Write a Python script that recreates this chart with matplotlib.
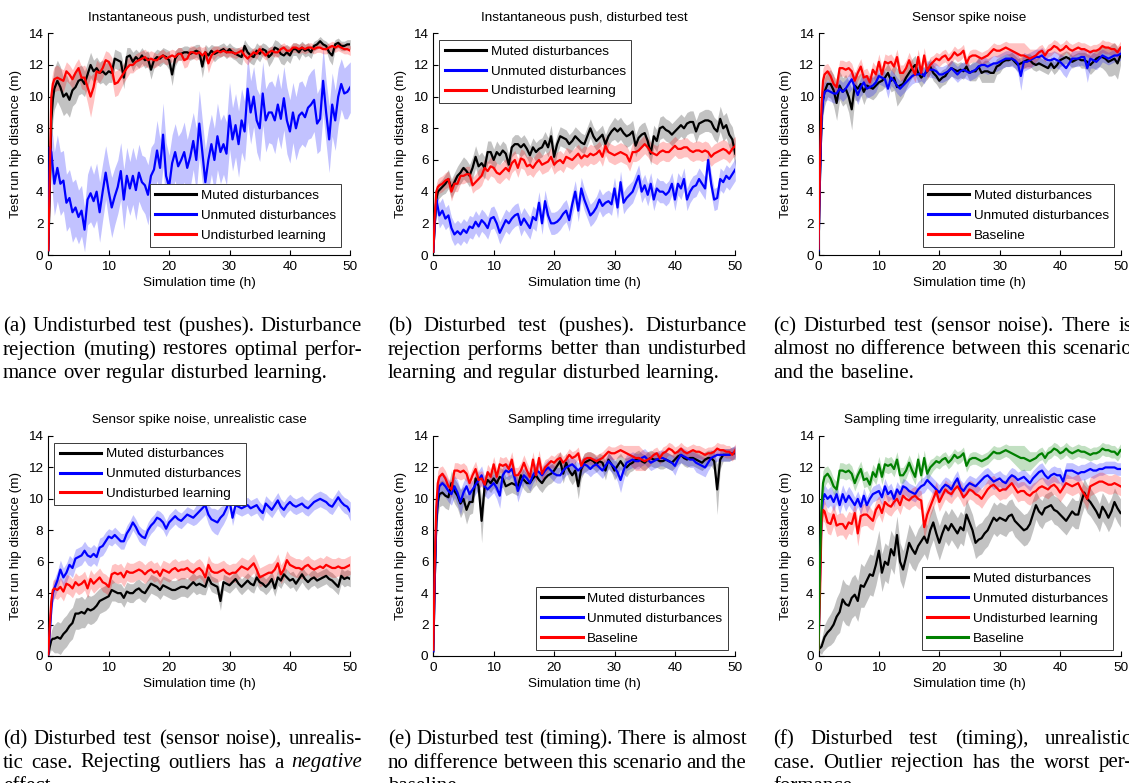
import numpy as np
import matplotlib
matplotlib.use('Agg')
import matplotlib.pyplot as plt
from matplotlib.transforms import IdentityTransform

plt.rcParams['font.family'] = ['Liberation Sans', 'DejaVu Sans']
FS = 9.7
plt.rcParams['font.size'] = FS

# sampling times (h): 0, 0.25, 0.5, 0.75, then every 0.5 h up to 50
T = np.concatenate([[0.0, 0.25, 0.5, 0.75], np.arange(1.0, 50.01, 0.5)])

# ---------------- (a) Instantaneous push, undisturbed test ----------------
a_muted = [0.3, 4.0, 8.5, 9.8,
 10.5, 11.0, 10.6, 10.0, 10.2, 9.8, 10.4, 10.6, 11.0, 11.1,
 10.8, 11.4, 12.0, 11.6, 11.8, 11.5, 11.6, 11.4, 11.6, 11.5,
 12.4, 12.3, 12.2, 11.2, 12.5, 12.6, 12.2, 12.5, 12.3, 12.6,
 12.3, 12.4, 11.7, 12.3, 12.5, 12.4, 12.6, 12.5, 12.3, 11.4,
 12.4, 12.7, 12.7, 12.8, 12.8, 12.7, 12.8, 12.9, 12.8, 11.9,
 12.8, 12.6, 12.9, 12.7, 12.8, 12.9, 13.0, 12.8, 13.0, 12.8,
 12.7, 12.6, 12.5, 13.2, 12.8, 12.6, 12.5, 12.9, 12.7, 13.0,
 12.9, 12.5, 12.7, 13.1, 13.0, 12.7, 12.6, 12.8, 12.6, 13.0,
 13.0, 12.8, 13.1, 12.9, 13.0, 12.8, 13.2, 13.3, 13.5, 13.3,
 13.2, 12.8, 12.6, 13.3, 13.4, 13.2, 13.2, 13.3, 13.3]
a_muted_sd = [0.2, 1.0, 1.2, 1.3,
 1.3, 1.3, 1.3, 1.2, 1.2, 1.1, 1.0, 1.0, 0.9, 0.9,
 0.8, 0.8, 0.8, 0.7, 0.7, 0.7, 0.7, 0.7, 0.7, 0.6,
 0.6, 0.6, 0.6, 0.7, 0.6, 0.5, 0.6, 0.5, 0.5, 0.5,
 0.5, 0.5, 0.6, 0.5, 0.5, 0.5, 0.5, 0.5, 0.6, 0.7,
 0.5, 0.4, 0.4, 0.4, 0.4, 0.4, 0.4, 0.4, 0.5, 0.7,
 0.5, 0.5, 0.4, 0.5, 0.4, 0.4, 0.4, 0.4, 0.4, 0.4,
 0.4, 0.5, 0.5, 0.4, 0.5, 0.5, 0.5, 0.5, 0.5, 0.4,
 0.4, 0.6, 0.5, 0.5, 0.5, 0.6, 0.6, 0.5, 0.5, 0.4,
 0.4, 0.5, 0.4, 0.4, 0.4, 0.4, 0.3, 0.3, 0.3, 0.3,
 0.3, 0.5, 0.6, 0.3, 0.3, 0.3, 0.3, 0.3, 0.3]
a_unmuted = [0.3, 6.8, 6.5, 5.5,
 4.5, 5.5, 4.5, 4.7, 3.3, 3.6, 2.7, 3.0, 2.4, 2.8,
 1.6, 3.5, 3.9, 3.4, 4.0, 2.7, 4.0, 5.2, 4.0, 3.0,
 3.7, 4.3, 5.3, 3.5, 5.0, 4.2, 5.0, 4.1, 5.2, 4.6,
 4.4, 3.8, 5.0, 5.4, 6.6, 5.5, 7.6, 5.0, 4.3, 5.8,
 6.5, 5.6, 6.0, 6.5, 5.5, 6.2, 7.2, 6.0, 8.3, 6.5,
 4.6, 6.0, 7.0, 6.0, 7.5, 6.5, 7.0, 6.4, 8.8, 7.3,
 8.2, 7.0, 8.5, 7.8, 10.5, 9.0, 10.0, 8.5, 8.0, 10.2,
 8.5, 9.0, 9.0, 8.5, 9.5, 8.6, 9.9, 8.5, 7.8, 9.0,
 8.0, 8.8, 9.0, 8.7, 9.3, 9.5, 9.8, 8.3, 8.6, 11.0,
 9.0, 7.3, 9.5, 8.5, 10.0, 10.8, 10.2, 10.3, 10.6]
a_unmuted_sd = [0.2, 1.0, 1.5, 2.0,
 2.0, 2.1, 2.0, 1.9, 1.8, 1.8, 1.9, 1.8, 1.7, 1.6,
 1.4, 1.6, 1.8, 1.7, 1.8, 1.9, 1.8, 1.7, 1.8, 1.9,
 1.8, 1.7, 1.8, 1.9, 1.8, 1.7, 1.8, 1.9, 1.8, 1.7,
 1.8, 1.9, 1.8, 1.7, 1.9, 1.8, 2.0, 2.1, 2.0, 1.8,
 1.8, 1.9, 1.8, 1.9, 1.8, 1.9, 1.8, 2.0, 2.1, 2.0,
 2.1, 2.0, 1.9, 2.0, 2.1, 2.0, 1.9, 2.0, 2.1, 2.0,
 2.0, 2.1, 2.0, 1.9, 2.1, 2.0, 1.9, 2.0, 2.1, 2.0,
 2.0, 1.9, 2.0, 2.1, 2.0, 1.9, 2.0, 2.1, 2.0, 1.9,
 2.0, 2.1, 2.0, 1.9, 2.0, 2.1, 2.0, 1.9, 2.0, 2.1,
 2.0, 2.1, 2.0, 1.9, 1.8, 1.6, 1.6, 1.7, 1.6]
a_undist = [0.3, 5.0, 10.0, 10.8,
 11.1, 11.2, 11.1, 11.0, 11.6, 11.4, 11.1, 11.5, 11.8, 11.2,
 11.2, 10.6, 10.0, 10.6, 11.6, 11.5, 11.8, 12.3, 12.2, 11.8,
 10.8, 10.9, 11.2, 11.5, 11.8, 12.0, 12.0, 12.2, 12.3, 12.4,
 12.5, 12.3, 12.4, 12.3, 12.3, 12.5, 12.6, 12.4, 12.5, 12.6,
 12.5, 12.7, 12.7, 12.3, 12.4, 12.8, 12.8, 12.7, 12.8, 12.6,
 12.8, 12.1, 12.6, 12.8, 12.9, 12.8, 12.9, 12.8, 12.8, 12.8,
 12.7, 12.8, 12.9, 12.6, 12.4, 12.6, 12.8, 12.7, 13.0, 12.8,
 12.6, 12.8, 12.9, 12.8, 12.8, 13.0, 13.1, 12.9, 12.9, 13.1,
 13.1, 13.0, 13.1, 13.0, 13.1, 13.1, 13.0, 13.1, 13.1, 13.0,
 13.0, 13.1, 13.2, 13.1, 13.2, 13.1, 13.0, 13.0, 12.9]
a_undist_sd = [0.2, 1.0, 1.0, 0.8,
 0.8, 0.8, 0.7, 0.7, 0.6, 0.6, 0.6, 0.6, 0.6, 0.7,
 0.8, 1.0, 1.3, 0.9, 0.7, 0.6, 0.6, 0.6, 0.6, 0.7,
 0.8, 0.8, 0.7, 0.6, 0.6, 0.5, 0.5, 0.5, 0.5, 0.5,
 0.5, 0.5, 0.5, 0.5, 0.4, 0.4, 0.4, 0.4, 0.4, 0.4,
 0.4, 0.4, 0.4, 0.5, 0.5, 0.4, 0.4, 0.4, 0.4, 0.5,
 0.4, 0.6, 0.5, 0.4, 0.3, 0.3, 0.3, 0.3, 0.3, 0.3,
 0.3, 0.3, 0.3, 0.4, 0.4, 0.3, 0.3, 0.3, 0.3, 0.3,
 0.3, 0.3, 0.3, 0.3, 0.3, 0.3, 0.3, 0.3, 0.3, 0.3,
 0.3, 0.3, 0.3, 0.3, 0.3, 0.3, 0.3, 0.3, 0.3, 0.3,
 0.3, 0.3, 0.3, 0.3, 0.3, 0.3, 0.3, 0.3, 0.3]

# ---------------- (b) Instantaneous push, disturbed test ----------------
b_muted = [0.2, 2.0, 3.5, 4.0,
 4.1, 4.3, 4.5, 4.8, 4.2, 4.6, 5.0, 5.2, 5.5, 5.3,
 5.0, 5.5, 6.2, 5.6, 5.8, 5.5, 6.5, 6.5, 6.0, 6.5,
 6.3, 6.6, 6.4, 5.7, 6.8, 7.0, 7.0, 6.8, 7.0, 6.7,
 6.3, 6.8, 6.5, 6.7, 6.8, 7.2, 6.8, 7.5, 6.2, 7.0,
 7.5, 7.4, 7.3, 7.0, 7.2, 7.5, 7.3, 7.1, 7.0, 7.5,
 8.0, 7.5, 7.2, 7.4, 7.6, 7.0, 7.5, 7.8, 8.0, 7.8,
 8.0, 7.7, 7.5, 7.6, 7.8, 6.9, 7.4, 7.6, 7.7, 7.2,
 6.4, 7.5, 7.2, 8.0, 8.1, 7.9, 7.8, 7.6, 7.8, 8.0,
 8.2, 8.0, 8.3, 8.4, 8.4, 7.8, 8.3, 8.4, 8.5, 8.5,
 8.4, 8.0, 7.8, 8.6, 8.0, 8.2, 7.6, 7.3, 6.4]
b_muted_sd = [0.1, 0.3, 0.5, 0.5,
 0.5, 0.5, 0.6, 0.6, 0.6, 0.6, 0.6, 0.7, 0.7, 0.7,
 0.7, 0.7, 0.7, 0.7, 0.7, 0.7, 0.7, 0.7, 0.7, 0.7,
 0.6, 0.6, 0.6, 0.6, 0.6, 0.6, 0.6, 0.6, 0.6, 0.6,
 0.6, 0.6, 0.6, 0.6, 0.6, 0.6, 0.6, 0.7, 0.7, 0.6,
 0.6, 0.6, 0.6, 0.6, 0.6, 0.6, 0.6, 0.6, 0.6, 0.6,
 0.6, 0.6, 0.6, 0.6, 0.6, 0.6, 0.6, 0.6, 0.7, 0.7,
 0.7, 0.7, 0.7, 0.7, 0.7, 0.7, 0.7, 0.7, 0.7, 0.7,
 0.7, 0.7, 0.7, 0.7, 0.7, 0.7, 0.7, 0.7, 0.7, 0.7,
 0.7, 0.7, 0.7, 0.7, 0.7, 0.7, 0.7, 0.7, 0.7, 0.7,
 0.7, 0.7, 0.7, 0.8, 0.8, 0.8, 0.8, 0.8, 0.8]
b_unmuted = [0.2, 2.0, 3.5, 3.0,
 2.5, 2.8, 2.3, 2.5, 1.7, 1.3, 1.5, 1.3, 1.6, 1.4,
 1.8, 1.7, 2.1, 1.8, 2.2, 2.0, 1.7, 2.3, 2.4, 2.0,
 1.4, 1.8, 2.2, 2.0, 2.3, 2.5, 2.6, 1.9, 2.3, 2.0,
 1.7, 2.4, 2.2, 3.3, 2.0, 3.4, 2.5, 2.0, 2.0, 2.1,
 2.3, 2.6, 2.8, 2.2, 3.2, 4.0, 2.8, 4.2, 3.5, 3.0,
 2.5, 2.7, 3.0, 3.5, 3.1, 3.3, 3.4, 3.2, 4.2, 3.0,
 4.6, 3.3, 3.6, 3.8, 4.0, 4.5, 5.0, 4.0, 4.4, 3.8,
 4.5, 3.5, 4.2, 4.0, 4.0, 3.8, 4.0, 4.5, 3.5, 4.5,
 4.2, 4.8, 3.5, 4.0, 4.3, 4.4, 4.8, 4.5, 4.2, 6.0,
 4.5, 3.5, 3.6, 4.8, 4.6, 5.0, 4.8, 5.1, 5.4]
b_unmuted_sd = [0.1, 0.5, 0.7, 0.8,
 0.8, 0.8, 0.7, 0.7, 0.7, 0.7, 0.7, 0.7, 0.7, 0.7,
 0.7, 0.7, 0.7, 0.7, 0.7, 0.7, 0.7, 0.7, 0.7, 0.7,
 0.7, 0.7, 0.7, 0.7, 0.7, 0.7, 0.7, 0.7, 0.7, 0.7,
 0.7, 0.7, 0.7, 0.7, 0.7, 0.7, 0.7, 0.7, 0.7, 0.7,
 0.7, 0.7, 0.7, 0.7, 0.7, 0.7, 0.7, 0.7, 0.7, 0.7,
 0.7, 0.7, 0.7, 0.7, 0.7, 0.7, 0.7, 0.7, 0.7, 0.7,
 0.7, 0.7, 0.7, 0.7, 0.7, 0.7, 0.7, 0.7, 0.7, 0.7,
 0.7, 0.7, 0.7, 0.7, 0.7, 0.7, 0.7, 0.7, 0.7, 0.7,
 0.7, 0.7, 0.7, 0.7, 0.7, 0.7, 0.7, 0.7, 0.7, 0.7,
 0.7, 0.7, 0.7, 0.7, 0.7, 0.7, 0.7, 0.7, 0.7]
b_undist = [0.2, 2.5, 4.0, 4.3,
 4.4, 4.5, 4.7, 4.8, 4.0, 4.5, 4.5, 5.0, 5.0, 5.1,
 5.1, 4.4, 4.6, 4.8, 5.0, 5.5, 5.3, 5.6, 5.5, 5.2,
 5.1, 5.3, 5.5, 5.3, 5.8, 6.0, 5.5, 6.1, 6.0, 5.6,
 5.7, 5.5, 5.8, 6.0, 5.7, 5.8, 5.9, 6.2, 5.7, 5.9,
 6.0, 5.8, 6.2, 6.1, 6.0, 6.2, 6.4, 6.1, 6.3, 6.2,
 6.4, 6.3, 6.4, 6.6, 6.2, 6.9, 6.5, 6.4, 6.3, 6.4,
 6.5, 6.4, 6.3, 5.9, 6.5, 6.5, 6.6, 6.8, 7.0, 6.8,
 6.5, 6.4, 6.3, 6.5, 6.6, 6.5, 6.5, 6.7, 6.9, 6.7,
 6.7, 6.8, 6.8, 6.6, 6.5, 6.6, 6.6, 6.5, 6.6, 6.5,
 6.2, 6.4, 6.5, 6.6, 6.7, 6.6, 6.4, 6.7, 6.9]
b_undist_sd = [0.1, 0.4, 0.5, 0.5,
 0.5, 0.5, 0.5, 0.5, 0.6, 0.5, 0.5, 0.5, 0.5, 0.5,
 0.5, 0.5, 0.5, 0.6, 0.6, 0.6, 0.6, 0.6, 0.6, 0.6,
 0.6, 0.6, 0.6, 0.6, 0.6, 0.6, 0.6, 0.6, 0.6, 0.6,
 0.6, 0.6, 0.6, 0.6, 0.6, 0.6, 0.6, 0.6, 0.6, 0.6,
 0.6, 0.6, 0.6, 0.6, 0.6, 0.6, 0.6, 0.6, 0.6, 0.6,
 0.6, 0.6, 0.6, 0.6, 0.6, 0.6, 0.6, 0.6, 0.6, 0.6,
 0.6, 0.6, 0.6, 0.6, 0.6, 0.6, 0.6, 0.6, 0.6, 0.6,
 0.6, 0.6, 0.6, 0.6, 0.6, 0.6, 0.6, 0.6, 0.6, 0.6,
 0.6, 0.6, 0.6, 0.6, 0.6, 0.6, 0.6, 0.6, 0.6, 0.6,
 0.6, 0.6, 0.6, 0.6, 0.6, 0.6, 0.6, 0.6, 0.6]

# ---------------- shared baseline (c, e, f) ----------------
baseline = [0.4, 6.0, 9.5, 11.0,
 11.4, 11.6, 11.3, 10.8, 10.6, 11.8, 11.8, 11.7, 11.8, 11.6,
 11.0, 11.5, 11.9, 11.2, 11.3, 10.9, 11.7, 11.4, 12.2, 11.4,
 12.2, 12.1, 12.2, 11.9, 12.5, 11.5, 11.5, 11.8, 12.3, 11.8,
 11.4, 12.5, 11.5, 12.6, 11.6, 12.0, 12.2, 12.4, 12.3, 12.5,
 12.6, 12.3, 12.5, 12.8, 12.6, 12.7, 12.9, 12.1, 12.5, 12.6,
 12.6, 12.5, 12.4, 12.5, 12.6, 12.8, 13.0, 12.9, 12.9, 13.0,
 13.1, 13.0, 12.9, 12.8, 12.7, 12.6, 12.6, 12.5, 12.4, 12.5,
 12.6, 12.8, 12.9, 12.6, 12.9, 13.0, 13.2, 13.1, 12.9, 13.0,
 13.2, 13.0, 12.9, 13.0, 13.1, 13.0, 13.0, 12.9, 12.8, 12.9,
 12.9, 13.0, 13.2, 13.1, 13.1, 13.0, 13.0, 12.8, 13.1]
baseline_sd = [0.2, 1.5, 1.5, 0.8,
 0.6, 0.5, 0.5, 0.5, 0.5, 0.5, 0.5, 0.5, 0.5, 0.5,
 0.5, 0.5, 0.5, 0.5, 0.5, 0.5, 0.5, 0.5, 0.5, 0.5,
 0.5, 0.5, 0.5, 0.5, 0.5, 0.5, 0.5, 0.5, 0.5, 0.5,
 0.5, 0.5, 0.5, 0.5, 0.5, 0.5, 0.4, 0.4, 0.4, 0.4,
 0.4, 0.4, 0.4, 0.4, 0.4, 0.4, 0.4, 0.4, 0.4, 0.4,
 0.4, 0.4, 0.4, 0.4, 0.4, 0.4, 0.4, 0.4, 0.4, 0.4,
 0.4, 0.4, 0.5, 0.6, 0.7, 0.8, 0.8, 0.7, 0.6, 0.5,
 0.4, 0.4, 0.4, 0.4, 0.4, 0.4, 0.4, 0.4, 0.4, 0.4,
 0.4, 0.4, 0.4, 0.4, 0.4, 0.4, 0.4, 0.4, 0.4, 0.4,
 0.4, 0.4, 0.4, 0.4, 0.4, 0.4, 0.4, 0.4, 0.4]

# ---------------- (c) Sensor spike noise ----------------
c_muted = [0.3, 5.0, 8.5, 9.8,
 10.3, 10.8, 10.8, 10.4, 9.6, 10.7, 10.3, 10.5, 10.0, 9.2,
 10.7, 10.5, 10.8, 10.3, 10.7, 10.6, 10.5, 10.7, 10.9, 11.0,
 11.2, 11.5, 11.0, 11.2, 10.6, 10.7, 10.8, 11.2, 11.5, 11.8,
 12.0, 11.5, 11.2, 11.4, 11.6, 11.9, 11.5, 11.3, 11.0, 11.2,
 11.3, 11.6, 11.8, 11.7, 11.6, 11.7, 11.6, 11.9, 11.5, 11.6,
 11.6, 11.9, 11.5, 11.6, 11.6, 11.5, 11.5, 11.9, 12.0, 12.2,
 12.3, 12.3, 12.4, 12.2, 12.0, 12.1, 12.2, 12.3, 12.3, 12.1,
 12.0, 12.1, 12.0, 11.9, 11.8, 12.1, 11.8, 12.0, 12.3, 12.4,
 12.5, 12.4, 12.2, 12.3, 12.4, 12.3, 12.3, 12.2, 12.0, 12.2,
 12.4, 12.5, 12.5, 12.4, 12.2, 12.3, 12.4, 12.1, 12.6]
c_muted_sd = [0.2, 1.0, 1.0, 1.0,
 0.9, 0.8, 0.9, 1.0, 1.1, 0.9, 0.9, 0.9, 1.0, 1.3,
 0.9, 0.8, 0.7, 0.8, 0.7, 0.7, 0.7, 0.7, 0.6, 0.6,
 0.6, 0.6, 0.7, 0.8, 1.2, 1.0, 0.8, 0.7, 0.6, 0.6,
 0.6, 0.6, 0.6, 0.5, 0.5, 0.5, 0.5, 0.5, 0.5, 0.5,
 0.5, 0.5, 0.5, 0.5, 0.5, 0.5, 0.5, 0.5, 0.5, 0.6,
 0.6, 0.6, 0.6, 0.7, 0.7, 0.6, 0.6, 0.5, 0.5, 0.4,
 0.4, 0.4, 0.4, 0.4, 0.4, 0.4, 0.4, 0.4, 0.4, 0.4,
 0.4, 0.4, 0.4, 0.4, 0.4, 0.4, 0.4, 0.4, 0.4, 0.4,
 0.4, 0.4, 0.4, 0.4, 0.4, 0.5, 0.5, 0.5, 0.6, 0.6,
 0.6, 0.6, 0.7, 0.8, 0.9, 1.0, 1.0, 1.0, 0.6]
c_unmuted = [0.3, 5.0, 8.5, 9.8,
 10.3, 10.4, 10.3, 10.2, 10.2, 10.5, 10.3, 10.5, 10.8, 11.1,
 10.6, 10.1, 10.6, 10.9, 10.5, 10.6, 10.7, 10.9, 11.3, 11.2,
 11.1, 10.5, 11.2, 11.0, 10.7, 10.5, 10.7, 10.9, 11.1, 11.3,
 11.4, 11.4, 11.5, 11.3, 11.8, 11.7, 11.7, 11.6, 11.4, 11.4,
 11.5, 11.6, 11.8, 11.6, 11.4, 11.6, 11.7, 11.6, 11.5, 11.6,
 11.7, 11.9, 12.0, 12.0, 11.9, 12.0, 12.1, 12.1, 12.2, 12.3,
 12.4, 12.4, 12.4, 12.3, 12.1, 11.3, 12.2, 12.2, 12.3, 12.4,
 12.5, 12.5, 12.6, 12.4, 12.3, 12.3, 12.4, 12.3, 12.2, 12.0,
 11.8, 12.1, 12.4, 12.4, 12.4, 12.5, 12.5, 11.8, 12.4, 12.3,
 12.2, 12.4, 12.6, 12.5, 12.4, 12.5, 12.6, 12.6, 12.7]
c_unmuted_sd = [0.1, 1.0, 1.0, 0.8,
 0.6, 0.6, 0.6, 0.6, 0.6, 0.6, 0.6, 0.6, 0.6, 0.6,
 0.6, 0.6, 0.6, 0.6, 0.6, 0.6, 0.6, 0.6, 0.5, 0.5,
 0.5, 0.6, 0.5, 0.5, 0.5, 0.5, 0.5, 0.5, 0.5, 0.5,
 0.5, 0.5, 0.5, 0.5, 0.5, 0.5, 0.5, 0.5, 0.5, 0.5,
 0.5, 0.5, 0.5, 0.5, 0.5, 0.5, 0.5, 0.5, 0.5, 0.5,
 0.5, 0.5, 0.5, 0.5, 0.5, 0.5, 0.5, 0.5, 0.5, 0.5,
 0.5, 0.5, 0.5, 0.5, 0.6, 0.9, 0.6, 0.5, 0.5, 0.5,
 0.5, 0.5, 0.5, 0.5, 0.5, 0.5, 0.5, 0.5, 0.5, 0.6,
 0.6, 0.5, 0.5, 0.5, 0.5, 0.5, 0.6, 0.9, 0.6, 0.5,
 0.5, 0.5, 0.4, 0.4, 0.4, 0.4, 0.4, 0.4, 0.4]

# ---------------- (d) Sensor spike noise, unrealistic case ----------------
d_muted = [0.1, 0.6, 1.0, 1.1,
 1.1, 1.2, 1.1, 1.4, 1.6, 1.9, 2.1, 2.7, 2.7, 2.8,
 2.7, 3.0, 2.9, 3.0, 3.2, 3.5, 3.6, 3.7, 3.8, 4.2,
 4.1, 4.0, 4.0, 3.7, 4.1, 4.0, 4.0, 4.2, 4.3, 4.1,
 4.0, 4.3, 4.6, 4.5, 4.4, 4.2, 4.5, 4.4, 4.3, 4.2,
 4.2, 4.3, 4.4, 4.4, 4.3, 4.5, 4.7, 4.5, 4.6, 4.5,
 4.4, 5.0, 4.6, 4.5, 4.4, 3.5, 4.7, 4.6, 4.5, 4.7,
 4.9, 4.6, 4.4, 4.6, 4.8, 4.6, 4.5, 5.0, 4.7, 4.6,
 4.4, 4.6, 4.9, 4.3, 5.0, 4.8, 5.2, 5.0, 4.8, 4.9,
 4.6, 4.9, 5.2, 4.9, 4.7, 4.9, 5.0, 4.8, 4.9, 5.0,
 5.1, 4.9, 4.8, 4.6, 4.4, 5.1, 4.9, 5.0, 4.9]
d_muted_sd = [0.1, 0.4, 0.6, 0.8,
 0.9, 1.0, 1.0, 1.0, 1.0, 1.0, 1.0, 1.0, 1.0, 1.0,
 0.9, 0.9, 0.9, 0.9, 0.9, 0.8, 0.8, 0.8, 0.7, 0.7,
 0.6, 0.6, 0.6, 0.6, 0.6, 0.6, 0.6, 0.6, 0.6, 0.6,
 0.6, 0.6, 0.6, 0.6, 0.6, 0.6, 0.6, 0.6, 0.6, 0.6,
 0.6, 0.6, 0.6, 0.6, 0.6, 0.6, 0.6, 0.6, 0.6, 0.6,
 0.5, 0.5, 0.5, 0.5, 0.5, 0.6, 0.5, 0.5, 0.5, 0.5,
 0.5, 0.5, 0.5, 0.5, 0.5, 0.5, 0.5, 0.5, 0.5, 0.5,
 0.5, 0.5, 0.5, 0.5, 0.5, 0.5, 0.5, 0.5, 0.5, 0.5,
 0.5, 0.5, 0.5, 0.5, 0.5, 0.5, 0.5, 0.5, 0.5, 0.5,
 0.5, 0.5, 0.5, 0.5, 0.5, 0.5, 0.5, 0.5, 0.5]
d_unmuted = [0.1, 1.5, 3.0, 4.0,
 4.3, 4.8, 5.5, 5.0, 5.3, 5.8, 5.6, 6.2, 6.3, 6.4,
 6.7, 6.4, 6.3, 6.5, 6.3, 6.9, 7.0, 7.3, 7.6, 7.5,
 7.7, 7.5, 7.3, 7.3, 7.8, 8.1, 8.5, 8.2, 7.8, 7.6,
 7.5, 8.0, 8.3, 8.5, 8.8, 8.7, 8.5, 8.1, 8.5, 8.7,
 8.9, 8.7, 8.6, 8.8, 9.0, 8.9, 8.8, 9.0, 9.2, 9.4,
 9.6, 9.0, 8.7, 8.6, 8.5, 8.8, 9.0, 9.4, 9.9, 8.8,
 9.6, 9.5, 9.4, 9.5, 9.6, 9.4, 9.5, 9.6, 9.3, 9.1,
 9.7, 9.5, 9.3, 9.6, 9.9, 9.5, 9.3, 9.6, 9.8, 9.6,
 9.5, 9.6, 9.7, 9.5, 9.4, 9.6, 9.8, 9.9, 10.0, 9.9,
 9.8, 9.6, 9.5, 9.8, 10.1, 9.8, 9.6, 9.5, 9.2]
d_unmuted_sd = [0.1, 0.4, 0.5, 0.6,
 0.6, 0.6, 0.6, 0.6, 0.6, 0.6, 0.6, 0.6, 0.6, 0.6,
 0.6, 0.6, 0.6, 0.6, 0.6, 0.6, 0.6, 0.6, 0.5, 0.5,
 0.5, 0.5, 0.5, 0.5, 0.5, 0.5, 0.5, 0.5, 0.5, 0.5,
 0.5, 0.5, 0.5, 0.5, 0.5, 0.5, 0.5, 0.5, 0.5, 0.5,
 0.5, 0.5, 0.5, 0.5, 0.5, 0.5, 0.5, 0.6, 0.6, 0.6,
 0.6, 0.6, 0.7, 0.8, 0.8, 0.7, 0.6, 0.6, 0.5, 0.5,
 0.5, 0.5, 0.5, 0.5, 0.5, 0.5, 0.5, 0.5, 0.5, 0.5,
 0.5, 0.5, 0.5, 0.5, 0.5, 0.5, 0.5, 0.5, 0.5, 0.5,
 0.5, 0.5, 0.5, 0.5, 0.5, 0.5, 0.5, 0.5, 0.5, 0.5,
 0.5, 0.5, 0.5, 0.5, 0.5, 0.5, 0.5, 0.5, 0.6]
d_undist = [0.1, 2.0, 3.5, 4.2,
 4.3, 4.2, 4.4, 4.1, 4.6, 4.5, 4.3, 4.7, 4.5, 4.6,
 4.8, 4.3, 4.9, 4.6, 4.8, 5.0, 4.7, 4.6, 4.4, 5.2,
 5.3, 5.2, 5.3, 5.0, 5.4, 5.3, 5.3, 5.4, 5.5, 5.4,
 5.2, 5.4, 5.5, 5.3, 5.4, 5.1, 5.5, 5.4, 5.3, 5.5,
 5.6, 5.4, 5.5, 5.5, 5.6, 5.4, 5.3, 5.5, 5.6, 5.4,
 5.0, 5.8, 5.4, 5.3, 5.3, 5.4, 5.5, 5.3, 5.2, 5.3,
 5.3, 5.5, 5.7, 5.6, 5.5, 5.7, 5.9, 5.5, 5.0, 5.1,
 5.2, 5.3, 5.3, 5.5, 5.9, 5.2, 5.5, 6.1, 5.8, 5.7,
 5.6, 5.6, 5.5, 5.7, 5.8, 5.6, 5.5, 5.6, 5.7, 5.6,
 5.8, 5.7, 5.6, 5.6, 5.7, 5.6, 5.6, 5.7, 5.8]
d_undist_sd = [0.1, 0.5, 0.6, 0.6,
 0.6, 0.6, 0.6, 0.6, 0.6, 0.6, 0.6, 0.6, 0.6, 0.6,
 0.6, 0.6, 0.6, 0.6, 0.6, 0.6, 0.6, 0.6, 0.6, 0.6,
 0.6, 0.6, 0.6, 0.6, 0.6, 0.6, 0.6, 0.6, 0.6, 0.6,
 0.6, 0.6, 0.6, 0.6, 0.6, 0.6, 0.6, 0.6, 0.6, 0.6,
 0.6, 0.6, 0.6, 0.6, 0.6, 0.6, 0.6, 0.6, 0.6, 0.6,
 0.6, 0.6, 0.6, 0.6, 0.6, 0.6, 0.6, 0.6, 0.6, 0.6,
 0.6, 0.6, 0.6, 0.6, 0.6, 0.6, 0.6, 0.6, 0.6, 0.6,
 0.6, 0.6, 0.6, 0.6, 0.6, 0.6, 0.6, 0.6, 0.6, 0.6,
 0.6, 0.6, 0.6, 0.6, 0.6, 0.6, 0.6, 0.6, 0.6, 0.6,
 0.6, 0.6, 0.6, 0.6, 0.6, 0.6, 0.6, 0.6, 0.6]

# ---------------- (e) Sampling time irregularity ----------------
e_muted = [0.3, 5.0, 8.5, 9.8,
 10.3, 10.4, 10.2, 10.1, 11.0, 10.5, 10.2, 9.7, 10.0, 9.3,
 9.8, 9.8, 11.3, 10.8, 8.6, 10.8, 11.2, 11.0, 11.3, 11.0,
 11.4, 11.3, 10.8, 10.9, 11.0, 10.9, 10.8, 11.5, 11.2, 11.0,
 11.0, 11.3, 11.5, 11.2, 11.0, 11.3, 11.5, 11.6, 11.8, 12.1,
 12.4, 11.6, 12.3, 11.8, 11.5, 11.8, 10.8, 11.9, 12.3, 12.4,
 12.5, 12.4, 12.2, 12.4, 12.3, 11.8, 12.5, 12.2, 11.8, 12.1,
 12.4, 12.1, 12.0, 12.2, 12.3, 12.5, 12.6, 12.4, 12.3, 12.5,
 12.6, 12.5, 12.5, 12.4, 12.4, 12.5, 12.4, 12.3, 12.5, 12.7,
 12.8, 12.6, 12.5, 12.6, 12.6, 12.5, 12.4, 12.3, 12.5, 12.6,
 12.6, 12.4, 10.6, 12.5, 12.8, 12.8, 12.8, 12.9, 12.9]
e_muted_sd = [0.1, 1.0, 1.0, 0.9,
 0.8, 0.8, 0.8, 0.8, 0.8, 0.8, 0.8, 0.9, 0.8, 0.9,
 0.8, 0.7, 0.6, 0.7, 1.4, 0.7, 0.6, 0.6, 0.6, 0.6,
 0.6, 0.6, 0.6, 0.6, 0.6, 0.6, 0.6, 0.6, 0.6, 0.6,
 0.6, 0.6, 0.6, 0.6, 0.6, 0.6, 0.6, 0.6, 0.6, 0.6,
 0.6, 0.6, 0.6, 0.6, 0.6, 0.6, 0.8, 0.6, 0.6, 0.6,
 0.5, 0.5, 0.5, 0.5, 0.5, 0.6, 0.5, 0.5, 0.6, 0.6,
 0.5, 0.5, 0.6, 0.5, 0.5, 0.5, 0.5, 0.5, 0.5, 0.5,
 0.5, 0.5, 0.5, 0.5, 0.5, 0.5, 0.5, 0.5, 0.5, 0.5,
 0.5, 0.5, 0.5, 0.5, 0.5, 0.5, 0.5, 0.5, 0.5, 0.5,
 0.5, 0.6, 1.6, 0.6, 0.4, 0.4, 0.4, 0.4, 0.4]
e_unmuted = [0.3, 5.0, 8.8, 10.2,
 10.8, 11.0, 10.8, 10.5, 10.3, 10.8, 10.4, 9.8, 10.4, 10.8,
 10.3, 10.6, 10.9, 11.2, 11.5, 10.8, 10.6, 10.8, 11.0, 10.7,
 10.2, 11.5, 11.8, 11.7, 11.9, 11.3, 10.5, 11.0, 11.5, 11.3,
 11.0, 11.5, 11.8, 11.7, 11.5, 11.8, 12.0, 11.8, 11.6, 11.5,
 11.5, 11.8, 12.0, 12.1, 12.2, 12.0, 11.8, 12.0, 12.2, 12.1,
 11.9, 12.1, 12.2, 12.0, 11.8, 12.1, 12.4, 12.2, 12.0, 11.7,
 11.2, 11.8, 12.3, 12.4, 12.5, 12.4, 12.4, 12.6, 12.7, 12.5,
 12.3, 12.4, 12.5, 12.6, 12.6, 12.5, 12.4, 12.3, 12.1, 12.5,
 12.8, 12.7, 12.6, 12.5, 12.5, 12.3, 12.2, 12.1, 12.0, 12.3,
 12.6, 12.7, 12.8, 12.8, 12.8, 12.8, 12.8, 12.9, 13.0]
e_unmuted_sd = [0.1, 1.0, 1.0, 0.8,
 0.7, 0.7, 0.7, 0.7, 0.7, 0.7, 0.8, 0.8, 0.7, 0.7,
 0.7, 0.6, 0.6, 0.6, 0.6, 0.6, 0.6, 0.6, 0.6, 0.7,
 0.8, 0.6, 0.5, 0.5, 0.5, 0.6, 0.7, 0.6, 0.5, 0.5,
 0.5, 0.5, 0.5, 0.5, 0.5, 0.5, 0.5, 0.5, 0.5, 0.5,
 0.5, 0.5, 0.5, 0.5, 0.5, 0.5, 0.5, 0.5, 0.5, 0.5,
 0.5, 0.5, 0.5, 0.5, 0.5, 0.5, 0.5, 0.5, 0.5, 0.6,
 0.8, 0.6, 0.5, 0.5, 0.5, 0.5, 0.5, 0.5, 0.5, 0.5,
 0.5, 0.5, 0.5, 0.5, 0.5, 0.5, 0.5, 0.5, 0.6, 0.5,
 0.5, 0.5, 0.5, 0.5, 0.5, 0.6, 0.6, 0.6, 0.6, 0.5,
 0.5, 0.4, 0.4, 0.4, 0.4, 0.4, 0.4, 0.4, 0.4]

# ---------------- (f) Sampling time irregularity, unrealistic case ----------------
f_muted = [0.5, 0.5, 0.6, 0.9,
 1.2, 1.5, 1.7, 2.0, 2.5, 2.8, 3.6, 3.3, 3.2, 3.7,
 3.9, 3.5, 4.5, 4.4, 4.8, 5.2, 5.1, 5.8, 6.7, 5.3,
 6.0, 5.8, 6.8, 6.4, 7.7, 6.0, 5.5, 6.3, 7.2, 6.8,
 6.5, 7.0, 7.3, 7.6, 7.2, 8.0, 8.5, 7.8, 7.2, 7.8,
 8.3, 8.0, 8.4, 8.1, 7.8, 8.2, 8.0, 9.0, 8.5, 8.0,
 7.2, 7.4, 7.5, 7.8, 8.0, 8.4, 8.8, 8.6, 8.8, 8.7,
 8.6, 8.9, 9.0, 8.6, 8.4, 8.2, 8.0, 8.1, 8.4, 9.0,
 9.6, 9.2, 9.0, 9.4, 9.5, 9.6, 9.3, 9.2, 9.0, 8.8,
 8.6, 8.9, 9.2, 9.0, 9.0, 9.8, 10.4, 10.0, 9.8, 9.5,
 9.2, 8.8, 9.5, 9.2, 8.8, 9.2, 9.8, 9.4, 9.1]
f_muted_sd = [0.2, 0.3, 0.5, 0.6,
 0.8, 0.9, 1.0, 1.1, 1.2, 1.3, 1.3, 1.3, 1.3, 1.3,
 1.3, 1.3, 1.4, 1.3, 1.3, 1.3, 1.3, 1.3, 1.3, 1.2,
 1.2, 1.2, 1.2, 1.2, 1.2, 1.2, 1.2, 1.2, 1.2, 1.2,
 1.1, 1.1, 1.1, 1.1, 1.1, 1.1, 1.1, 1.1, 1.1, 1.1,
 1.0, 1.0, 1.0, 1.0, 1.0, 1.0, 1.0, 1.0, 1.0, 1.0,
 1.0, 1.0, 1.0, 1.0, 1.0, 1.0, 1.0, 1.0, 1.0, 1.0,
 1.0, 1.0, 1.0, 1.0, 1.0, 1.0, 1.0, 1.0, 1.0, 1.0,
 0.9, 0.9, 0.9, 0.9, 0.9, 0.9, 0.9, 0.9, 0.9, 0.9,
 0.9, 0.9, 0.9, 0.9, 0.9, 0.9, 0.9, 0.9, 0.9, 0.9,
 0.9, 0.9, 0.9, 0.9, 0.9, 0.9, 0.9, 0.9, 0.9]
f_unmuted = [0.5, 5.0, 9.0, 10.0,
 10.3, 10.0, 10.2, 9.8, 10.3, 9.6, 10.3, 9.8, 10.2, 9.9,
 9.6, 10.0, 9.5, 10.2, 9.6, 10.0, 10.3, 10.4, 10.5, 10.1,
 10.8, 10.3, 10.5, 10.0, 10.6, 10.3, 10.8, 10.7, 10.5, 10.4,
 10.3, 10.6, 10.8, 10.9, 11.2, 11.0, 10.8, 10.6, 10.4, 10.7,
 10.9, 10.8, 10.6, 11.0, 11.3, 10.7, 10.5, 10.8, 11.0, 10.9,
 10.8, 11.0, 11.2, 11.4, 11.5, 11.3, 11.1, 11.2, 11.3, 11.1,
 11.0, 11.3, 11.5, 11.4, 11.2, 11.3, 11.4, 11.2, 11.0, 11.3,
 11.5, 11.7, 11.8, 11.5, 11.3, 11.5, 11.6, 11.5, 11.5, 11.1,
 11.8, 11.8, 11.8, 11.7, 11.6, 11.7, 11.7, 11.8, 11.9, 11.8,
 11.8, 11.9, 11.9, 12.0, 12.0, 12.0, 12.0, 11.9, 11.9]
f_unmuted_sd = [0.1, 0.8, 0.8, 0.6,
 0.6, 0.6, 0.6, 0.6, 0.6, 0.6, 0.6, 0.6, 0.6, 0.6,
 0.5, 0.5, 0.5, 0.5, 0.5, 0.5, 0.5, 0.5, 0.5, 0.5,
 0.5, 0.5, 0.5, 0.5, 0.5, 0.5, 0.5, 0.5, 0.5, 0.5,
 0.5, 0.5, 0.5, 0.5, 0.5, 0.5, 0.5, 0.5, 0.5, 0.5,
 0.5, 0.5, 0.5, 0.5, 0.5, 0.5, 0.5, 0.5, 0.5, 0.5,
 0.5, 0.5, 0.5, 0.5, 0.5, 0.5, 0.5, 0.5, 0.5, 0.5,
 0.5, 0.5, 0.5, 0.5, 0.5, 0.5, 0.5, 0.5, 0.5, 0.5,
 0.5, 0.5, 0.5, 0.5, 0.5, 0.5, 0.5, 0.5, 0.5, 0.5,
 0.5, 0.5, 0.5, 0.5, 0.5, 0.5, 0.5, 0.5, 0.5, 0.5,
 0.4, 0.4, 0.4, 0.4, 0.4, 0.4, 0.4, 0.4, 0.4]
f_undist = [0.4, 4.0, 8.5, 9.3,
 9.2, 8.5, 8.4, 9.0, 8.3, 8.4, 8.4, 8.1, 8.5, 8.4,
 9.1, 7.8, 8.9, 9.0, 9.0, 8.8, 8.6, 9.3, 9.6, 9.1,
 9.8, 9.6, 9.5, 9.8, 10.0, 9.6, 10.2, 10.0, 9.9, 10.1,
 10.2, 10.0, 9.9, 8.2, 9.0, 9.5, 10.0, 10.5, 9.8, 10.2,
 10.6, 10.4, 10.3, 10.6, 10.8, 10.5, 10.1, 10.3, 10.6, 10.5,
 10.3, 10.2, 10.0, 10.3, 10.6, 10.8, 10.9, 10.7, 10.5, 10.6,
 10.6, 10.8, 11.0, 10.7, 10.4, 10.5, 10.5, 10.3, 10.2, 10.4,
 10.5, 10.7, 10.8, 10.7, 10.6, 10.8, 10.9, 10.7, 10.4, 10.7,
 11.0, 10.9, 10.8, 10.9, 11.0, 10.6, 10.3, 10.0, 10.8, 10.9,
 11.0, 11.1, 11.1, 11.0, 10.9, 10.9, 11.0, 10.9, 10.8]
f_undist_sd = [0.1, 0.8, 0.8, 0.7,
 0.7, 0.7, 0.7, 0.7, 0.7, 0.7, 0.7, 0.7, 0.7, 0.7,
 0.7, 0.8, 0.7, 0.7, 0.7, 0.7, 0.6, 0.6, 0.6, 0.6,
 0.6, 0.6, 0.6, 0.6, 0.6, 0.6, 0.6, 0.6, 0.6, 0.6,
 0.6, 0.6, 0.6, 0.8, 0.7, 0.6, 0.6, 0.6, 0.6, 0.6,
 0.6, 0.6, 0.6, 0.6, 0.6, 0.6, 0.6, 0.6, 0.6, 0.6,
 0.6, 0.6, 0.6, 0.6, 0.6, 0.6, 0.6, 0.6, 0.6, 0.6,
 0.6, 0.6, 0.6, 0.6, 0.6, 0.6, 0.6, 0.6, 0.6, 0.6,
 0.6, 0.6, 0.6, 0.6, 0.6, 0.6, 0.6, 0.6, 0.6, 0.6,
 0.6, 0.6, 0.6, 0.6, 0.6, 0.6, 0.6, 0.7, 0.6, 0.6,
 0.6, 0.6, 0.6, 0.6, 0.6, 0.6, 0.6, 0.6, 0.6]

titles = ["Instantaneous push, undisturbed test", "Instantaneous push, disturbed test",
          "Sensor spike noise", "Sensor spike noise, unrealistic case",
          "Sampling time irregularity", "Sampling time irregularity, unrealistic case"]
LBL_M, LBL_U, LBL_L, LBL_B = ("Muted disturbances", "Unmuted disturbances",
                              "Undisturbed learning", "Baseline")
K, B, R, G = '#000000', '#0000ff', '#ff0000', '#008000'

panels = [
    dict(series=[(LBL_M, a_muted, a_muted_sd, K), (LBL_U, a_unmuted, a_unmuted_sd, B),
                 (LBL_L, a_undist, a_undist_sd, R)], loc='lower right', anchor=(0.97, 0.036)),
    dict(series=[(LBL_M, b_muted, b_muted_sd, K), (LBL_U, b_unmuted, b_unmuted_sd, B),
                 (LBL_L, b_undist, b_undist_sd, R)], loc='upper left', anchor=(0.02, 0.97)),
    dict(series=[(LBL_M, c_muted, c_muted_sd, K), (LBL_U, c_unmuted, c_unmuted_sd, B),
                 (LBL_B, baseline, baseline_sd, R)], loc='lower right', anchor=(0.98, 0.035)),
    dict(series=[(LBL_M, d_muted, d_muted_sd, K), (LBL_U, d_unmuted, d_unmuted_sd, B),
                 (LBL_L, d_undist, d_undist_sd, R)], loc='upper left', anchor=(0.02, 0.97)),
    dict(series=[(LBL_M, e_muted, e_muted_sd, K), (LBL_U, e_unmuted, e_unmuted_sd, B),
                 (LBL_B, baseline, baseline_sd, R)], loc='lower right', anchor=(0.975, 0.027)),
    dict(series=[(LBL_M, f_muted, f_muted_sd, K), (LBL_U, f_unmuted, f_unmuted_sd, B),
                 (LBL_L, f_undist, f_undist_sd, R), (LBL_B, baseline, baseline_sd, G)],
         loc='lower right', anchor=(0.976, 0.027)),
]

captions = [
    ["(a) Undisturbed test (pushes). Disturbance",
     "rejection (muting) restores optimal perfor-",
     "mance over regular disturbed learning."],
    ["(b) Disturbed test (pushes). Disturbance",
     "rejection performs better than undisturbed",
     "learning and regular disturbed learning."],
    ["(c) Disturbed test (sensor noise). There is",
     "almost no difference between this scenario",
     "and the baseline."],
    ["(d) Disturbed test (sensor noise), unrealis-",
     "tic case. Rejecting outliers has a *negative*",
     "effect."],
    ["(e) Disturbed test (timing). There is almost",
     "no difference between this scenario and the",
     "baseline."],
    ["(f) Disturbed test (timing), unrealistic",
     "case. Outlier rejection has the worst per-",
     "formance."],
]

W, H = 1129, 783
fig = plt.figure(figsize=(W / 100, H / 100), dpi=100)

col_left = [48.3, 433.3, 818.5]
row_top = [33.3, 436.0]
heights = [221.7, 220.0]

for i, p in enumerate(panels):
    r, c = divmod(i, 3)
    left, top, hgt = col_left[c], row_top[r], heights[r]
    ax = fig.add_axes([left / W, 1 - (top + hgt) / H, 302.0 / W, hgt / H])
    for lbl, m, s, col in p['series']:
        m = np.asarray(m, float); s = np.asarray(s, float)
        if len(m) != len(T) or len(s) != len(T):
            raise ValueError(f"length mismatch in panel {i} {lbl}: {len(m)} {len(s)}")
        ax.fill_between(T, m - s, m + s, color=col, alpha=0.24, lw=0, zorder=1)
    for lbl, m, s, col in p['series']:
        ax.plot(T, m, color=col, lw=1.6, label=lbl, zorder=3)
    ax.set_xlim(0, 50)
    ax.set_ylim(0, 14)
    ax.set_xticks(range(0, 51, 10))
    ax.set_yticks(range(0, 15, 2))
    for sp in ('top', 'right'):
        ax.spines[sp].set_visible(False)
    for sp in ('left', 'bottom'):
        ax.spines[sp].set_linewidth(0.8)
    ax.tick_params(direction='in', length=3.5, width=0.8, labelsize=FS)
    ax.tick_params(axis='x', pad=4.5)
    ax.tick_params(axis='y', pad=3.5)
    ax.set_title(titles[i], fontsize=FS, pad=9.0)
    ax.set_xlabel("Simulation time (h)", fontsize=FS, labelpad=3.0)
    ax.set_ylabel("Test run hip distance (m)", fontsize=FS, labelpad=4.5)
    leg = ax.legend(loc=p['loc'], bbox_to_anchor=p['anchor'], fontsize=FS, frameon=True,
                    fancybox=False, framealpha=1, edgecolor='#3a3a3a', borderpad=0.4,
                    labelspacing=0.55, handlelength=3.05, handletextpad=0.35, borderaxespad=0)
    leg.get_frame().set_linewidth(0.7)
    for ln in leg.get_lines():
        ln.set_linewidth(2.2)
    leg.set_zorder(5)

# captions (justified, Times-like serif)
renderer = fig.canvas.get_renderer()
cap_x = [3.0, 388.0, 773.0]
cap_w = 359.0
cap_base = [[331.0, 354.5, 378.0], [744.0, 767.5, 791.0]]
CAP_FS = 15.0
serif = ['Liberation Serif', 'DejaVu Serif']

sp1 = fig.text(0, 0, "a a", family=serif, fontsize=CAP_FS)
sp2 = fig.text(0, 0, "aa", family=serif, fontsize=CAP_FS)
SPACE = sp1.get_window_extent(renderer).width - sp2.get_window_extent(renderer).width
sp1.remove(); sp2.remove()

for i, lines in enumerate(captions):
    r, c = divmod(i, 3)
    x0 = cap_x[c]
    for j, line in enumerate(lines):
        yb = H - cap_base[r][j]
        justify = j < len(lines) - 1
        words = line.split()
        texts = []
        for w in words:
            style = 'normal'
            if w.startswith('*') and w.endswith('*'):
                w = w[1:-1]
                style = 'italic'
            t = fig.text(0, yb, w, transform=IdentityTransform(), family=serif,
                         fontsize=CAP_FS, fontstyle=style, va='baseline', ha='left')
            texts.append(t)
        widths = [t.get_window_extent(renderer).width for t in texts]
        if justify and len(words) > 1:
            gap = (cap_w - sum(widths)) / (len(words) - 1)
        else:
            gap = SPACE
        x = x0
        for t, wd in zip(texts, widths):
            t.set_x(x)
            x += wd + gap

fig.savefig("out.png", dpi=100)
